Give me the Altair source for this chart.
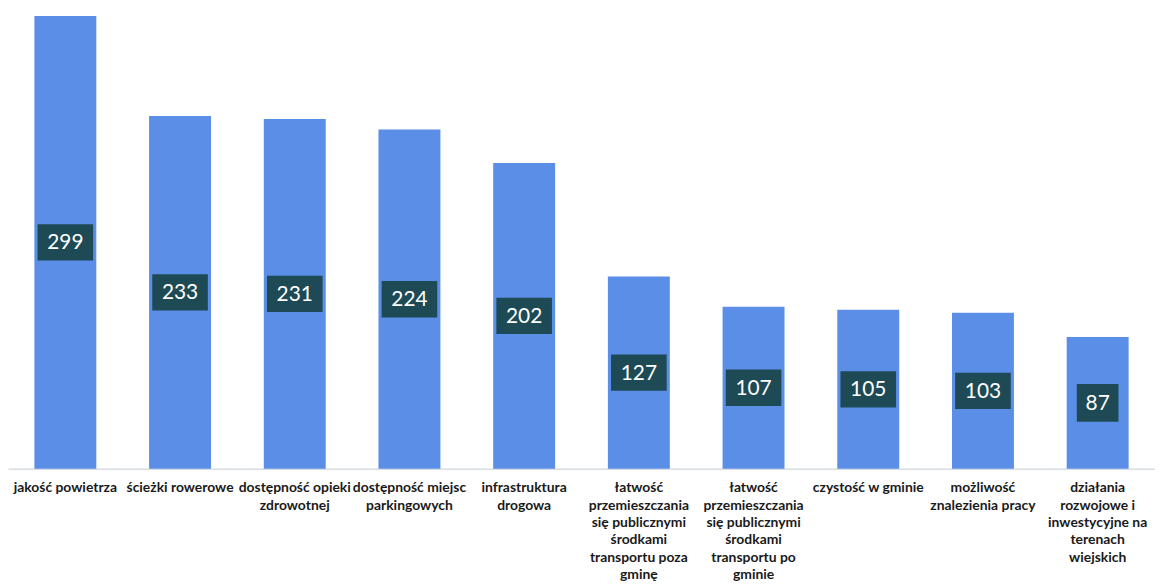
import altair as alt
import pandas as pd

categories = [
    "jakość powietrza",
    "ścieżki rowerowe",
    "dostępność opieki|zdrowotnej",
    "dostępność miejsc|parkingowych",
    "infrastruktura|drogowa",
    "łatwość|przemieszczania|się publicznymi|środkami|transportu poza|gminę",
    "łatwość|przemieszczania|się publicznymi|środkami|transportu po|gminie",
    "czystość w gminie",
    "możliwość|znalezienia pracy",
    "działania|rozwojowe i|inwestycyjne na|terenach|wiejskich",
]
values = [299, 233, 231, 224, 202, 127, 107, 105, 103, 87]

df = pd.DataFrame({"kat": categories, "v": values})

x_scale = alt.Scale(paddingInner=0.46, paddingOuter=0.23)
x_enc = alt.X(
    "kat:N",
    sort=categories,
    title=None,
    scale=x_scale,
    axis=alt.Axis(
        labelAngle=0,
        labelExpr="split(datum.label, '|')",
        labelFont="Lato",
        labelFontSize=14,
        labelFontWeight="bold",
        labelColor="#1a1a1a",
        labelLineHeight=17.5,
        labelPadding=12,
        labelLimit=200,
        ticks=False,
        domainColor="#d8dde3",
        domainWidth=1.5,
    ),
)
y_scale = alt.Scale(domain=[0, 303], nice=False)

base = alt.Chart(df)

bars = base.mark_bar(color="#5b8ee6").encode(
    x=x_enc,
    y=alt.Y("v:Q", scale=y_scale, axis=None),
)

box3 = base.transform_filter("datum.v >= 100").transform_calculate(
    lo="datum.v/2 - 12", hi="datum.v/2 + 12"
).mark_bar(color="#1e4a55", width=56).encode(
    x=alt.X("kat:N", sort=categories),
    y=alt.Y("lo:Q", scale=y_scale),
    y2="hi:Q",
)
box2 = base.transform_filter("datum.v < 100").transform_calculate(
    lo="datum.v/2 - 12.5", hi="datum.v/2 + 12.5"
).mark_bar(color="#1e4a55", width=42).encode(
    x=alt.X("kat:N", sort=categories),
    y=alt.Y("lo:Q", scale=y_scale),
    y2="hi:Q",
)

labels = base.transform_calculate(mid="datum.v/2").mark_text(
    color="white", font="Lato", fontSize=21, baseline="middle", align="center", dy=1
).encode(
    x=alt.X("kat:N", sort=categories),
    y=alt.Y("mid:Q", scale=y_scale),
    text="v:Q",
)

chart = (
    alt.layer(bars, box3, box2, labels)
    .properties(width=1155, height=462, padding=0, background="white")
    .configure_view(stroke=None)
)

chart.save("out.html", embed_options={"renderer": "svg", "actions": False})
